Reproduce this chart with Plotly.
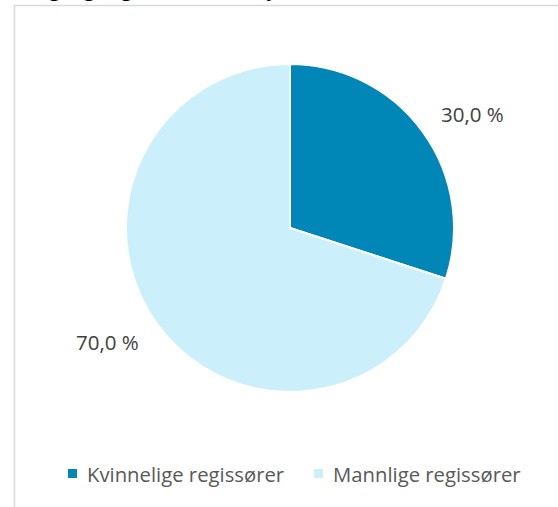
import math
import plotly.graph_objects as go

categories = ["Kvinnelige regissører", "Mannlige regissører"]
values = [30.0, 70.0]
colors = ["#0086B7", "#CCEFFC"]
label_texts = [f"{v:.1f}".replace(".", ",") + " %" for v in values]

W, H = 558, 507
cx, cy, r = 290, 228, 164  # pie centre / radius in pixels

fig = go.Figure(go.Pie(
    labels=categories,
    values=values,
    sort=False,
    direction="clockwise",
    rotation=0,
    marker=dict(colors=colors, line=dict(color="white", width=2)),
    textinfo="none",
    hoverinfo="label+percent",
    showlegend=False,
    domain=dict(x=[(cx - r) / W, (cx + r) / W], y=[1 - (cy + r) / H, 1 - (cy - r) / H]),
))

# data labels placed outside at each slice's mid angle
total = sum(values)
cum = 0.0
for v, t in zip(values, label_texts):
    mid = (cum + v / 2) / total * 2 * math.pi + math.radians(4)
    cum += v
    lr = r * 1.31
    px = cx + lr * math.sin(mid)
    py = cy - lr * math.cos(mid)
    fig.add_annotation(x=px / W, y=1 - py / H, xref="paper", yref="paper",
                       xanchor="center", yanchor="middle",
                       text=t, showarrow=False,
                       font=dict(family="Open Sans", size=20.5, color="#404040"))

# legend (drawn manually to match spacing of the original)
legend_x = [68, 314]
for name, col, lx in zip(categories, colors, legend_x):
    fig.add_shape(type="rect", xref="paper", yref="paper",
                  x0=lx / W, x1=(lx + 9) / W, y0=1 - 478 / H, y1=1 - 469 / H,
                  line=dict(width=0), fillcolor=col)
    fig.add_annotation(x=(lx + 17) / W, y=1 - 474 / H, xref="paper", yref="paper",
                       xanchor="left", yanchor="middle", text=name, showarrow=False,
                       font=dict(family="Open Sans", size=20.3, color="#595959"))

# clipped title at the very top (only its lowest pixels are visible, as in the original)
fig.add_annotation(x=22 / W, y=1 - 4 / H, xref="paper", yref="paper", xanchor="left", yanchor="bottom",
                   text="Regi og regissører etter kjønn, 2019", showarrow=False,
                   font=dict(family="Open Sans", size=21, color="#000000"))

# chart border
fig.add_shape(type="rect", xref="paper", yref="paper",
              x0=14.5 / W, x1=1.02, y0=-0.02, y1=1 - 5.5 / H,
              line=dict(color="#D9D9D9", width=1.5), fillcolor="rgba(0,0,0,0)")

fig.update_layout(
    width=W, height=H,
    margin=dict(l=0, r=0, t=0, b=0),
    paper_bgcolor="white",
    plot_bgcolor="white",
    showlegend=False,
)

fig.write_html("out.html", config={"displayModeBar": False},
               post_script="document.body.style.margin='0';")
